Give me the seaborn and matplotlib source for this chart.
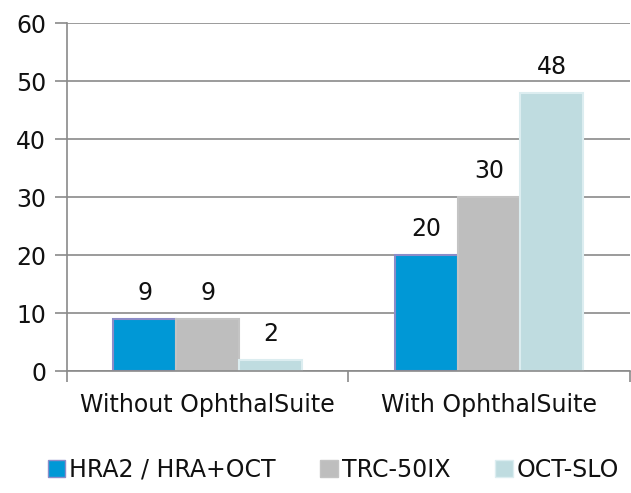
import seaborn as sns
import pandas as pd
import matplotlib.pyplot as plt

categories = ['Without OphthalSuite', 'With OphthalSuite']
devices = ['HRA2 / HRA+OCT', 'TRC-50IX', 'OCT-SLO']
hra = [9, 20]
trc = [9, 30]
oct_slo = [2, 48]

colors = ['#0098D6', '#BEBEBE', '#BFDCE0']
edges = ['#8C8CC8', '#C4C4C4', '#DCEDF0']

df = pd.DataFrame({
    'group': categories * 3,
    'device': [d for d in devices for _ in categories],
    'count': hra + trc + oct_slo,
})

sns.set_style('white')
plt.rcParams['font.family'] = ['DejaVu Sans']

fig = plt.figure(figsize=(6.31, 4.93), dpi=100)
ax = fig.add_axes([0.106, 0.247, 0.892, 0.706])

sns.barplot(data=df, x='group', y='count', hue='device', hue_order=devices,
            palette=colors, saturation=1, width=0.67, gap=0, ax=ax, legend=True)

for container, ec in zip(ax.containers, edges):
    for bar in container:
        bar.set_edgecolor(ec)
        bar.set_linewidth(1.5)
    ax.bar_label(container, padding=10, fontsize=17, color='#111111')

ax.set_ylim(0, 60)
ax.set_yticks(range(0, 61, 10))
ax.set_xlim(-0.5, 1.5)
ax.yaxis.grid(True, color='#8a8a8a', linewidth=1.2)
ax.set_axisbelow(True)
for s in ['top', 'right']:
    ax.spines[s].set_visible(False)
for s in ['left', 'bottom']:
    ax.spines[s].set_color('#8a8a8a')
    ax.spines[s].set_linewidth(1.2)

ax.tick_params(axis='y', left=True, length=9, width=1.2, color='#8a8a8a',
               labelsize=17, pad=6, labelcolor='#111111')
ax.tick_params(axis='x', bottom=False, labelsize=17, pad=12, labelcolor='#111111')
ax.set_xticks([-0.5, 0.5, 1.5], minor=True)
ax.tick_params(axis='x', which='minor', bottom=True, length=8, width=1.2, color='#8a8a8a')
ax.set_xlabel('')
ax.set_ylabel('')

handles, labels = ax.get_legend_handles_labels()
for h, ec in zip(handles, edges):
    h.set_edgecolor(ec)
ax.get_legend().remove()
fig.legend(handles, labels, loc='center', bbox_to_anchor=(0.528, 0.047),
           ncol=3, frameon=False, fontsize=17, handlelength=0.75, handleheight=0.75,
           handletextpad=0.15, columnspacing=1.9, labelcolor='#111111',
           borderaxespad=0, borderpad=0)

fig.savefig('out.png', dpi=100)
